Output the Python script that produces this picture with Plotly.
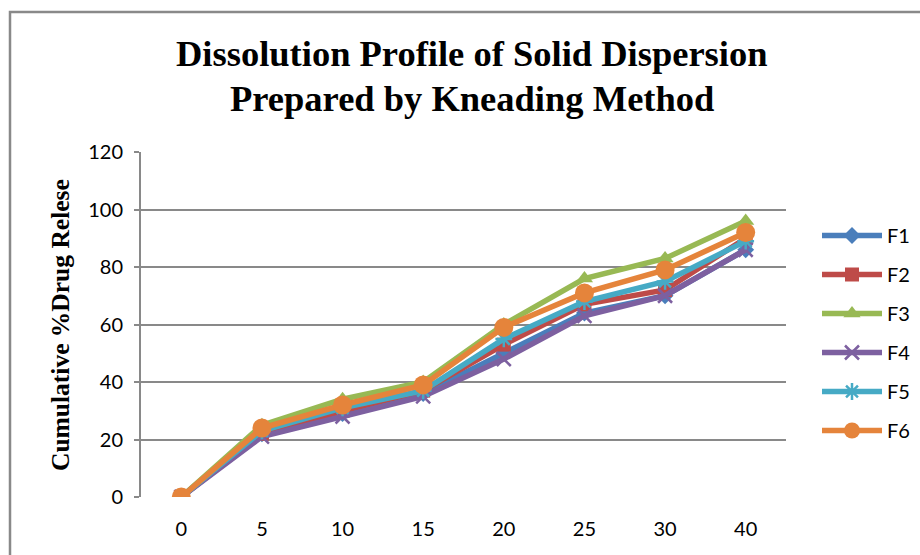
import plotly.graph_objects as go

# Sampling times (min) shown as evenly spaced categories
time_points = ["0", "5", "10", "15", "20", "25", "30", "40"]

# Cumulative % drug release for each formulation
f1 = [0, 22, 29, 36, 50, 64, 70, 86]
f2 = [0, 22, 30, 37, 53, 67, 72, 90]
f3 = [0, 25, 34, 40, 60, 76, 83, 96]
f4 = [0, 21, 28, 35, 48, 63, 70, 86]
f5 = [0, 23, 31, 37, 55, 68, 75, 89]
f6 = [0, 24, 32, 39, 59, 71, 79, 92]

y_ticks = [0, 20, 40, 60, 80, 100, 120]

title_lines = ["Dissolution Profile of Solid Dispersion", "Prepared by Kneading Method"]

series = [
    ("F1", f1, "#4A7EBB", "diamond", 13),
    ("F2", f2, "#BE4B48", "square", 14),
    ("F3", f3, "#98B954", "triangle-up", 15),
    ("F4", f4, "#7D60A0", "x-thin", 14),
    ("F5", f5, "#46AAC5", "asterisk", 14),
    ("F6", f6, "#E5843B", "circle", 19),
]

fig = go.Figure()
for name, vals, color, sym, size in series:
    thin = sym in ("x-thin", "asterisk")
    fig.add_trace(go.Scatter(
        x=time_points, y=vals, name=name, mode="lines+markers",
        legendgroup=name,
        line=dict(color=color, width=5.5),
        marker=dict(symbol=sym, size=size, color=color,
                    line=dict(color=color, width=2.5 if thin else 0)),
    ))

grid_col = "#898989"
W, H = 920, 555
L, R, T, B = 141, 134, 152, 58
pw, ph = W - L - R, H - T - B


def px_x(x):
    return (x - L) / pw


def px_y(y):
    return (H - B - y) / ph


title_font = dict(family="Liberation Serif", size=36.5, color="#000", weight="bold")
annotations = [
    dict(text=line, xref="paper", yref="paper", x=px_x(472), y=px_y(cy),
         xanchor="center", yanchor="middle", showarrow=False, font=title_font)
    for line, cy in zip(title_lines, [54, 98])
]
annotations.append(dict(
    text="Cumulative %Drug Relese", textangle=-90,
    xref="paper", yref="paper", x=px_x(60), y=px_y(325),
    xanchor="center", yanchor="middle", showarrow=False,
    font=dict(family="Liberation Serif", size=25.5, color="#000", weight="bold"),
))

fig.update_layout(
    width=W, height=H,
    margin=dict(l=L, r=R, t=T, b=B, autoexpand=False),
    paper_bgcolor="white", plot_bgcolor="white",
    showlegend=True,
    font=dict(family="Lato, Liberation Sans, sans-serif", size=20, color="#000"),
    xaxis=dict(
        type="category", range=[-0.5, 7.5],
        showgrid=False, zeroline=False, showline=False,
        ticks="", tickfont=dict(size=20), ticklabelstandoff=18,
    ),
    yaxis=dict(
        range=[0, 120], tickvals=y_ticks, ticktext=[str(v) for v in y_ticks],
        showgrid=True, gridcolor=grid_col, gridwidth=2,
        zeroline=False, showline=True, linecolor=grid_col, linewidth=2,
        ticks="outside", ticklen=5, tickcolor=grid_col, tickwidth=2,
        tickfont=dict(size=20), ticklabelstandoff=7,
    ),
    legend=dict(
        x=px_x(817), xanchor="left", y=px_y(216), yanchor="top",
        font=dict(size=20), tracegroupgap=10, itemwidth=60,
        bgcolor="rgba(0,0,0,0)",
    ),
    annotations=annotations,
    shapes=[dict(
        type="rect", xref="paper", yref="paper",
        x0=px_x(10), x1=px_x(960), y0=px_y(600), y1=px_y(12),
        line=dict(color=grid_col, width=2.5), fillcolor="rgba(0,0,0,0)",
        layer="below",
    )],
)

fig.write_html("out.html")
